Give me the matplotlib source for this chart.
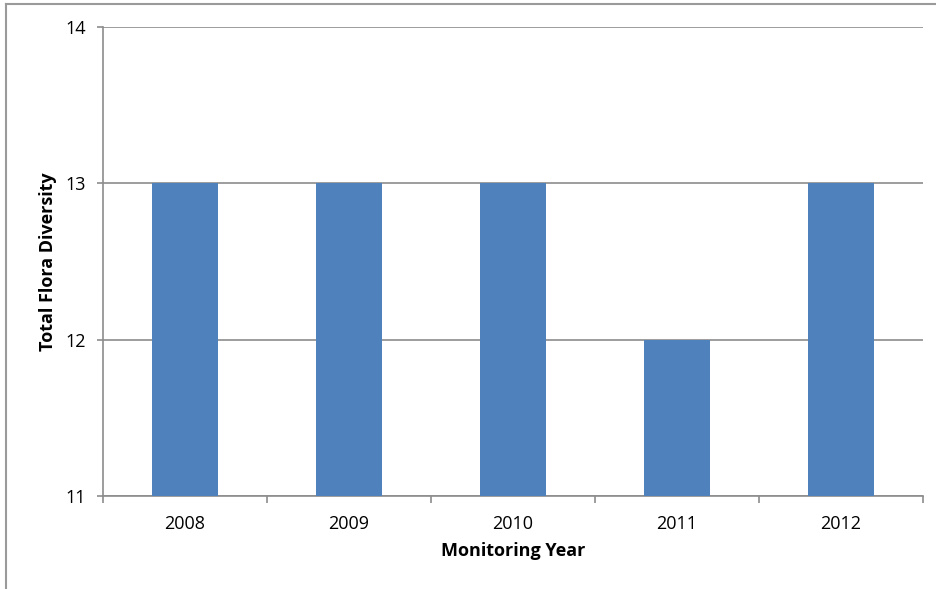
import matplotlib
matplotlib.use("Agg")
import matplotlib.pyplot as plt
from matplotlib.lines import Line2D

years = ["2008", "2009", "2010", "2011", "2012"]
diversity = [13, 13, 13, 12, 13]
y_ticks = [11, 12, 13, 14]

plt.rcParams['font.family'] = ['Open Sans', 'DejaVu Sans']

fig = plt.figure(figsize=(9.36, 5.89), dpi=100)
ax = fig.add_axes([0.110, 0.158, 0.876, 0.796])

x = range(len(years))
ax.bar(x, [d - 11 for d in diversity], bottom=11, width=0.4,
       color="#4F81BD", zorder=3)

ax.set_xlim(-0.5, len(years) - 0.5)
ax.set_ylim(11, 14)
ax.set_yticks(y_ticks)
ax.set_yticklabels([str(t) for t in y_ticks], fontsize=13)
ax.yaxis.grid(True, color="#8c8c8c", linewidth=1.2, zorder=0)

# category labels centred, tick marks at category boundaries
ax.set_xticks(list(x))
ax.set_xticklabels(years, fontsize=13)
ax.tick_params(axis='x', length=0, pad=14)
ax.set_xticks([i - 0.5 for i in range(len(years) + 1)], minor=True)
ax.tick_params(axis='x', which='minor', length=5, color="#8c8c8c", width=1.2)
ax.tick_params(axis='y', length=4.5, color="#8c8c8c", width=1.2, pad=8)

for side in ["top", "right"]:
    ax.spines[side].set_visible(False)
for side in ["left", "bottom"]:
    ax.spines[side].set_color("#8c8c8c")
    ax.spines[side].set_linewidth(1.2)

ax.set_xlabel("Monitoring Year", fontsize=13, fontweight="bold", labelpad=6)
ax.set_ylabel("Total Flora Diversity", fontsize=13, fontweight="bold", labelpad=6)

# outer frame (left and top edges visible in the reference)
fig.add_artist(Line2D([6 / 936, 6 / 936], [0, 1 - 4 / 589], transform=fig.transFigure,
                      color="#9a9a9a", linewidth=1.5))
fig.add_artist(Line2D([6 / 936, 1], [1 - 4 / 589, 1 - 4 / 589], transform=fig.transFigure,
                      color="#9a9a9a", linewidth=1.5))

fig.savefig("out.png", dpi=100)
